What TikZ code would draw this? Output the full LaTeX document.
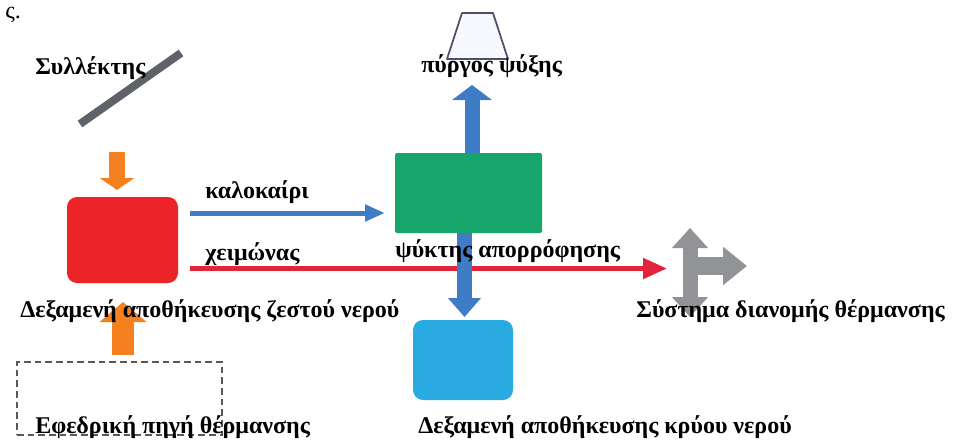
\documentclass[tikz,border=0pt]{standalone}
\usepackage{fontspec}
\setmainfont{Liberation Serif}
\usetikzlibrary{arrows.meta}

\definecolor{hotred}{RGB}{236,36,40}
\definecolor{chillgreen}{RGB}{22,166,108}
\definecolor{coldcyan}{RGB}{41,171,226}
\definecolor{flowblue}{RGB}{62,124,198}
\definecolor{heatorange}{RGB}{245,128,32}
\definecolor{panelgray}{RGB}{96,98,106}
\definecolor{distgray}{RGB}{146,147,151}
\definecolor{winterred}{RGB}{226,36,58}
\definecolor{towerline}{RGB}{78,78,108}
\definecolor{towerfill}{RGB}{248,248,255}
\definecolor{backupgray}{RGB}{88,88,88}

\begin{document}
\begin{tikzpicture}[x=0.75pt,y=-0.75pt,
  lbl/.style={font=\bfseries\fontsize{18}{21}\selectfont, inner sep=0pt, anchor=base west},
  tank/.style={draw=none, inner sep=0pt},
  thinflow/.style={line width=3.75pt},
  blockflow/.style={line width=#1},
]
\useasboundingbox (0,0) rectangle (954,440);

% storage tanks and the absorption chiller
\node[tank, fill=hotred, rounded corners=7.5pt, minimum width=83.25pt, minimum height=64.5pt] (hot) at (122.5,240) {};
\node[tank, fill=chillgreen, rounded corners=1.5pt, minimum width=110.25pt, minimum height=60pt] (chiller) at (468.5,193) {};
\node[tank, fill=coldcyan, rounded corners=7.5pt, minimum width=75pt, minimum height=60pt] (cold) at (463,360) {};
\node[draw=backupgray, line width=1.5pt, dash pattern=on 5pt off 3pt, inner sep=0pt,
      minimum width=153.75pt, minimum height=54.75pt] (backup) at (119.5,398.5) {};

% solar collector panel
\coordinate (panelA) at (80,124);
\coordinate (panelB) at (181,53);
\draw[panelgray, line width=6pt] (panelA) -- (panelB);

% cooling tower
\coordinate (twA) at (462,13);
\coordinate (twB) at (493,13);
\coordinate (twC) at (508,59);
\coordinate (twD) at (447,59);
\draw[towerline, fill=towerfill, line width=1.3pt, line join=round] (twA) -- (twB) -- (twC) -- (twD) -- cycle;

% flow end points
\coordinate (solarIn) at (117,152);
\coordinate (solarOut) at (117,190);
\coordinate (backupOut) at (123,355);
\coordinate (backupIn) at (123,302);
\coordinate (summerStart) at (190,213);
\coordinate (summerEnd) at (385,213);
\coordinate (winterStart) at (190,268.5);
\coordinate (winterEnd) at (667,268.5);
\coordinate (towerIn) at (472,85);
\coordinate (chillTop) at (472,153);
\coordinate (chillBot) at (464.5,233);
\coordinate (coldIn) at (464.5,317);
\coordinate (distTop) at (690,228);
\coordinate (distBot) at (690,317);
\coordinate (distMid) at (690,266);
\coordinate (distRight) at (747,266);

% heat input arrows
\draw[heatorange, blockflow=12pt, -{Triangle[width=25.5pt,length=9pt]}] (solarIn) -- (solarOut);
\draw[heatorange, blockflow=16.5pt, -{Triangle[width=34.5pt,length=15pt]}] (backupOut) -- (backupIn);

% summer and winter routes
\draw[flowblue, thinflow, -{Triangle[width=12pt,length=15pt]}] (summerStart) -- (summerEnd);
\draw[winterred, thinflow, -{Triangle[width=15pt,length=18pt]}] (winterStart) -- (winterEnd);

% chiller outputs
\draw[flowblue, blockflow=11.25pt, -{Triangle[width=29.25pt,length=11.25pt]}] (chillTop) -- (towerIn);
\draw[flowblue, blockflow=11.25pt, -{Triangle[width=24pt,length=14.25pt]}] (chillBot) -- (coldIn);

% heating distribution symbol
\draw[distgray, blockflow=11.25pt, {Triangle[width=26.25pt,length=15pt]}-{Triangle[width=26.25pt,length=15pt]}] (distTop) -- (distBot);
\draw[distgray, blockflow=13.5pt, -{Triangle[width=27.75pt,length=18pt]}] (distMid) -- (distRight);

% labels
\node[inner sep=0pt, anchor=base west, font=\fontsize{18}{21}\selectfont] (cut) at (5,18) {ς.};
\node[lbl] (lcollector) at (35,74) {Συλλέκτης};
\node[lbl] (ltower) at (421,72) {πύργος ψύξης};
\node[lbl] (lsummer) at (205,198) {καλοκαίρι};
\node[lbl] (lwinter) at (205,260) {χειμώνας};
\node[lbl] (lchiller) at (395,257) {ψύκτης απορρόφησης};
\node[lbl] (lhot) at (20,317) {Δεξαμενή αποθήκευσης ζεστού νερού};
\node[lbl, anchor=base east] (ldist) at (945,317) {Σύστημα διανομής θέρμανσης};
\node[lbl] (lbackup) at (35,433) {Εφεδρική πηγή θέρμανσης};
\node[lbl] (lcold) at (418,433) {Δεξαμενή αποθήκευσης κρύου νερού};
\end{tikzpicture}
\end{document}
